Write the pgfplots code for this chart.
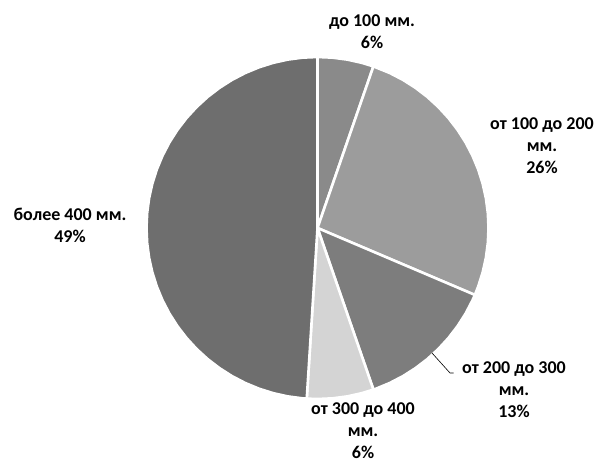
\documentclass[border=0pt]{standalone}
\usepackage{pgfplots}
\pgfplotsset{compat=1.18}
\usepackage{fontspec}
\setmainfont{Carlito}
\definecolor{sA}{HTML}{8A8A8A}
\definecolor{sB}{HTML}{9C9C9C}
\definecolor{sC}{HTML}{7D7D7D}
\definecolor{sD}{HTML}{D4D4D4}
\definecolor{sE}{HTML}{6E6E6E}
\begin{document}
\begin{tikzpicture}
\begin{axis}[
  name=pie,
  width=598pt, height=464pt, scale only axis,
  xmin=-317.5, xmax=280.5, ymin=-236, ymax=228,
  axis lines=none, clip=false,
  every axis plot/.append style={draw=white, line width=2.6pt, line join=round},
]
% slices: (angle in degrees, radius); boundaries at 5.3%, 31.4%, 44.7%, 51.0% clockwise from top
% до 100 мм. (6%)
\addplot[fill=sA, data cs=polar] coordinates {(0,0) (90,171) (85,171) (80,171) (75,171) (70.92,171)} -- cycle;
% от 100 до 200 мм. (26%)
\addplot[fill=sB, data cs=polar] coordinates {(0,0) (70.92,171) (65,171) (60,171) (55,171) (50,171) (45,171) (40,171) (35,171) (30,171) (25,171) (20,171) (15,171) (10,171) (5,171) (0,171) (-5,171) (-10,171) (-15,171) (-20,171) (-23.04,171)} -- cycle;
% от 200 до 300 мм. (13%)
\addplot[fill=sC, data cs=polar] coordinates {(0,0) (-23.04,171) (-25,171) (-30,171) (-35,171) (-40,171) (-45,171) (-50,171) (-55,171) (-60,171) (-65,171) (-70,171) (-70.92,171)} -- cycle;
% от 300 до 400 мм. (6%)
\addplot[fill=sD, data cs=polar] coordinates {(0,0) (-70.92,171) (-75,171) (-80,171) (-85,171) (-90,171) (-93.6,171)} -- cycle;
% более 400 мм. (49%)
\addplot[fill=sE, data cs=polar] coordinates {(0,0) (-93.6,171) (-95,171) (-100,171) (-105,171) (-110,171) (-115,171) (-120,171) (-125,171) (-130,171) (-135,171) (-140,171) (-145,171) (-150,171) (-155,171) (-160,171) (-165,171) (-170,171) (-175,171) (-180,171) (-185,171) (-190,171) (-195,171) (-200,171) (-205,171) (-210,171) (-215,171) (-220,171) (-225,171) (-230,171) (-235,171) (-240,171) (-245,171) (-250,171) (-255,171) (-260,171) (-265,171) (-270,171)} -- cycle;
% leader line
\addplot[draw=black, line width=0.6pt] coordinates {(114.5,-125) (132.5,-145) (136,-145)};
\tikzset{lbl/.style={align=center, font=\bfseries\fontsize{18}{22}\selectfont, text=black, inner sep=0pt}}
\node[lbl] at (axis cs:54.5,196) {до 100 мм.\\6\%};
\node[lbl] at (axis cs:224.5,82) {от 100 до 200\\мм.\\26\%};
\node[lbl] at (axis cs:-247.5,3) {более 400 мм.\\49\%};
\node[lbl] at (axis cs:196.5,-162) {от 200 до 300\\мм.\\13\%};
\node[lbl] at (axis cs:45.5,-203) {от 300 до 400\\мм.\\6\%};
\end{axis}
\pgfresetboundingbox
\useasboundingbox (pie.south west) rectangle (pie.north east);
\end{tikzpicture}
\end{document}
